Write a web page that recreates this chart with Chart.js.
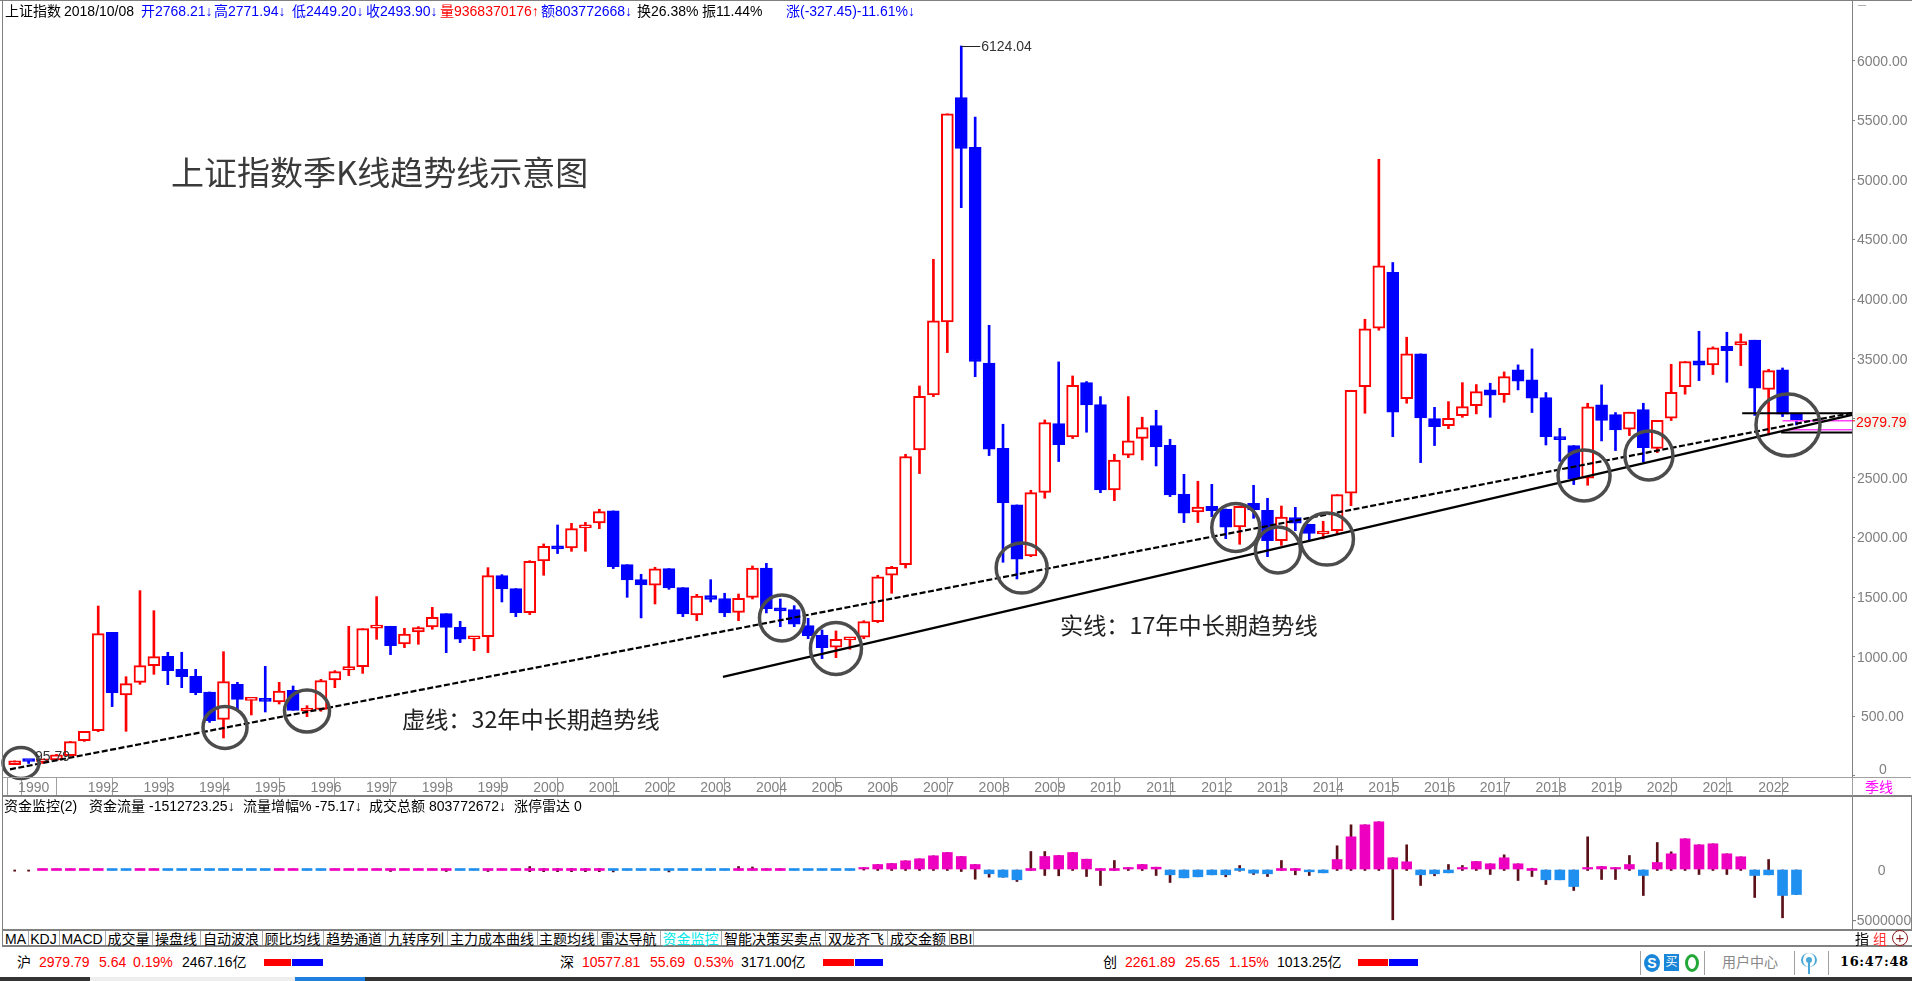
<!DOCTYPE html>
<html lang="zh-CN">
<head>
<meta charset="utf-8">
<title>上证指数季K线趋势线示意图</title>
<script src="https://cdn.jsdelivr.net/npm/chart.js@4"></script>
<style>
html,body{margin:0;padding:0;background:#fff;overflow:hidden}
#stage{position:relative;width:1912px;height:981px;overflow:hidden;background:#fff;font-family:"Liberation Sans","Noto Sans CJK SC",sans-serif;font-size:14px;color:#000}
canvas{position:absolute;left:0}
#stage .t{position:absolute;white-space:nowrap;line-height:16px}
#stage .r{position:absolute}
</style>
</head>
<body>
<div id="stage">
  <canvas id="kline" width="1912" height="796" style="top:0"></canvas>
  <canvas id="flow" width="1912" height="132" style="top:797px"></canvas>
</div>
<script>
// ---- chart data ----------------------------------------------------------
const yearTicks  = [0,1,5,9,13,17,21,25,29,33,37,41,45,49,53,57,61,65,69,73,77,81,85,89,93,97,101,105,109,113,117,121,125];
const yearLabels = ['1990','','1992','1993','1994','1995','1996','1997','1998','1999','2000','2001','2002','2003','2004','2005','2006','2007','2008','2009','2010','2011','2012','2013','2014','2015','2016','2017','2018','2019','2020','2021','2022'];
const priceTicks = [0,500,1000,1500,2000,2500,3000,3500,4000,4500,5000,5500,6000];

const opens  = [96,127,118,134,170,296,380,1205,680,786,926,1004,895,836,705,475,769,635,652,621,719,545,559,805,889,917,1240,1256,1108,1208,1250,1362,1247,1150,1169,1681,1572,1371,1804,1924,1913,2081,2123,2224,1773,1647,1600,1740,1580,1351,1513,1488,1373,1499,1745,1403,1396,1261,1180,1080,1142,1164,1295,1684,1773,2735,3197,3809,5692,5275,3465,2749,2274,1846,2380,2956,2844,3300,3116,2400,2691,2833,2940,2775,2363,2215,2263,2240,2089,2288,2229,1975,2168,2112,2030,2058,2372,3267,3756,4226,3166,3541,2998,2940,3023,3107,3239,3200,3407,3323,3175,2847,2772,2498,3113,3032,2909,3074,2749,3001,3267,3482,3449,3605,3616,3656,3244,3407,3035];
const highs  = [127,127,130,182,290,375,1426,1205,833,1555,1387,1038,1038,895,705,1043,786,643,920,786,755,590,811,884,1256,1236,1505,1256,1239,1253,1415,1362,1298,1169,1748,1689,1572,1807,1947,2106,2120,2128,2238,2224,1773,1692,1751,1740,1580,1524,1647,1533,1527,1762,1784,1485,1429,1323,1225,1217,1162,1303,1684,1759,2699,3272,4335,5555,6124,5527,3781,2951,2274,2397,2987,3474,3356,3309,3183,2699,3183,3010,3068,2825,2531,2473,2447,2240,2263,2439,2330,2265,2254,2112,2137,2361,3236,3832,5174,4308,3681,3541,3093,3141,3300,3284,3295,3390,3449,3583,3217,2917,2772,3127,3281,3049,3052,3127,2984,3454,3477,3731,3600,3723,3709,3656,3412,3423,3035];
const lows   = [95,105,105,130,166,290,372,582,375,769,853,766,741,682,450,319,554,512,537,604,551,498,543,741,842,861,1147,1018,1077,1105,1231,1035,1119,1052,1035,1460,1337,1354,1684,1866,1885,1885,2075,1740,1499,1326,1443,1566,1337,1303,1460,1337,1303,1485,1368,1253,1253,1152,985,993,1063,1152,1287,1533,1745,2537,3183,3552,4768,3351,2688,1793,1653,1840,2330,2638,2831,2884,2377,2310,2671,2651,2601,2344,2126,2126,2176,1991,1944,2162,1840,1935,2059,1972,1989,2028,2268,3043,3740,2847,3127,2629,2772,2914,3009,3038,3009,3135,3239,3049,2777,2640,2445,2439,2811,2730,2856,2635,2713,2982,3203,3317,3368,3303,3443,3025,2861,3015,2945];
const closes = [127,122,128,178,288,375,1194,699,775,926,1001,884,833,699,464,792,643,643,626,713,551,555,800,875,917,1236,1255,1094,1191,1245,1331,1247,1147,1168,1681,1569,1371,1801,1927,1905,2075,2106,2218,1757,1645,1603,1737,1578,1359,1510,1482,1368,1491,1745,1404,1385,1273,1178,1077,1147,1162,1295,1670,1751,2680,3186,3818,5555,5264,3477,2741,2294,1818,2377,2965,2780,3278,3113,2400,2651,2811,2923,2763,2358,2204,2257,2226,2087,2263,2232,1975,2173,2120,2036,2055,2361,3236,3751,4279,3052,3541,3004,2931,3001,3099,3225,3194,3351,3312,3169,2847,2822,2495,3096,2982,2903,3052,2755,2984,3219,3477,3446,3591,3569,3645,3253,3401,3035,2982];

const dashedTrendX = [-0.34,131.99];
const dashedTrendY = [56,3046];
const solidTrendX  = [50.88,131.99];
const solidTrendY  = [831,3029];
const blackLevelX  = [[124.1,131.99],[126.9,131.99]];
const blackLevelY  = [3044,2881];
const pinkLevelX   = [[127,131.99],[127,131.99]];
const pinkLevelY   = [2981,2905];

const circleX = [0.45,15.11,21,55.12,59,72.34,87.72,90.75,94.27,112.74,117.4,127.39];
const circleY = [109,407,545,1326,1070,1745,2085,1896,1988,2521,2689,2945];

// capital flow panel, thousands
const flowTicks  = [0,-5000];
const flowValues = [0,0,50,50,50,50,50,-50,-50,50,50,-50,-50,-50,-50,-50,-50,-50,-50,50,50,-50,-50,50,50,50,50,50,50,50,50,50,-50,-50,50,50,50,120,120,120,120,120,120,-60,-60,-60,-60,-60,-60,-60,-60,-60,80,100,80,80,-60,-60,-60,-70,-60,200,500,600,870,1070,1370,1700,1300,500,-430,-770,-1030,70,1300,1400,1700,1030,70,60,200,500,230,-530,-830,-730,-530,-530,-170,-370,-430,70,100,-230,-330,1000,3270,4470,4770,1170,770,-530,-430,-330,200,800,570,1170,570,130,-1030,-1030,-1700,200,300,200,500,-600,700,1570,3070,2470,2570,1570,1270,-600,-530,-2600,-2500];
const flowHighs  = [0,0,50,50,50,50,50,0,0,50,50,0,0,0,0,0,0,0,0,50,50,0,0,50,50,50,50,50,50,50,50,50,0,0,50,50,50,300,120,120,120,120,120,0,0,0,0,0,0,0,0,0,300,250,80,80,0,0,0,0,0,200,500,600,870,1070,1370,1700,1300,500,0,0,0,1800,1800,1400,1700,1030,70,900,200,500,230,0,0,0,0,0,400,0,0,900,100,0,0,2370,4470,4470,4770,1170,2470,0,0,500,400,800,570,1470,570,130,0,0,0,3270,300,200,1400,0,2700,1770,3070,2470,2570,1570,1270,0,1000,0,0];
const flowLows   = [-170,-170,0,0,0,0,0,-50,-50,0,0,-50,-50,-50,-50,-50,-50,-50,-50,0,0,-50,-50,0,0,0,0,-200,0,0,0,-200,-50,-50,-200,-50,-50,-220,-220,-220,-220,-220,-220,-240,-60,-60,-60,-240,-60,-60,-60,-60,-60,-60,-60,-60,-60,-60,-60,-60,-60,-60,-100,-100,-100,-100,-100,-100,-200,-970,-770,-770,-1200,-100,-600,-630,-100,-700,-1600,-100,-100,-100,-600,-1300,-830,-730,-530,-730,-170,-500,-700,-100,-530,-600,-330,-100,-100,-100,-100,-5030,-100,-1600,-630,-330,-100,-100,-500,-100,-1100,-700,-1500,-1030,-2100,-100,-1000,-1000,-100,-2600,-100,-100,-100,-500,-100,-500,-100,-2800,-530,-4830,-2500];

// ---- page furniture ------------------------------------------------------
const stage = document.getElementById('stage');
function text(str,left,top,color,extra){
  const d=document.createElement('div');d.className='t';d.textContent=str;
  d.style.left=left+'px';d.style.top=top+'px';if(color)d.style.color=color;
  if(extra)Object.assign(d.style,extra);stage.appendChild(d);return d;
}
function rect(l,t,w,h,c,extra){
  const d=document.createElement('div');d.className='r';
  Object.assign(d.style,{left:l+'px',top:t+'px',width:w+'px',height:h+'px',background:c},extra||{});
  stage.appendChild(d);return d;
}
const GREY='#808080',RED='#ff0000',BLUE='#0000ff';

// frame
rect(0,0,1912,1,GREY);rect(2,0,1,947,GREY);rect(3,777,1908,1,'#a0a0a0');
rect(3,795,1909,2,GREY);rect(3,929,1909,2,GREY);rect(3,945,1909,2,GREY);
rect(1911,797,1,133,GREY);rect(1852,777,1,19,'#a0a0a0');rect(1858,5,8,1,'#b0b0b0');

// head line
[['上证指数',5,'#000'],['2018/10/08',64,'#000'],['开2768.21↓',141,BLUE],['高2771.94↓',214,BLUE],['低2449.20↓',292,BLUE],['收2493.90↓',366,BLUE],['量9368370176↑',440,RED],['额803772668↓',541,BLUE],['换26.38%',637,'#000'],['振11.44%',702,'#000'],['涨(-327.45)-11.61%↓',786,BLUE]]
 .forEach(a=>text(a[0],a[1],3,a[2]));

// captions
text('上证指数季K线趋势线示意图',171,148,'#3a3a3a',{fontSize:'33px',lineHeight:'46px',fontFamily:'"Noto Sans CJK SC"'});
text('虚线：32年中长期趋势线',402,701,'#222',{fontSize:'23.2px',lineHeight:'34px',fontFamily:'"Noto Sans CJK SC"'});
text('实线：17年中长期趋势线',1060,607,'#222',{fontSize:'23.2px',lineHeight:'34px',fontFamily:'"Noto Sans CJK SC"'});
text('季线',1865,779,'#ff00ff');

// flow panel head
[['资金监控(2)',4],['资金流量',89],['-1512723.25↓',149],['流量增幅%',243],['-75.17↓',315],['成交总额',369],['803772672↓',429],['涨停雷达',514],['0',574]]
 .forEach(a=>text(a[0],a[1],798,'#000'));

// tab strip
const tabNames=['MA','KDJ','MACD','成交量','操盘线','自动波浪','顾比均线','趋势通道','九转序列','主力成本曲线','主题均线','雷达导航','资金监控','智能决策买卖点','双龙齐飞','成交金额','BBI'];
const tabEdges=[3,28,59,105,152,200,262,323,385,447,537,597,660,721,825,887,949,973];
tabNames.forEach((n,i)=>{
  rect(tabEdges[i+1],931,1,14,'#a8a8a8');
  text(n,tabEdges[i],931,n==='资金监控'?'#00e8e8':'#000',{width:(tabEdges[i+1]-tabEdges[i])+'px',textAlign:'center'});
});
text('指',1855,931,'#000');text('组',1873,931,'#ff3030');
text('+',1892,930,'#8b1a1a',{boxSizing:'border-box',border:'1.5px solid #8b1a1a',borderRadius:'50%',textAlign:'center',lineHeight:'13px',width:'16px',height:'16px',fontSize:'15px'});

// status line
[['沪',17,'#000'],['2979.79',39,RED],['5.64',99,RED],['0.19%',133,RED],['2467.16亿',182,'#000'],
 ['深',560,'#000'],['10577.81',582,RED],['55.69',650,RED],['0.53%',694,RED],['3171.00亿',741,'#000'],
 ['创',1103,'#000'],['2261.89',1125,RED],['25.65',1185,RED],['1.15%',1229,RED],['1013.25亿',1277,'#000'],
 ['用户中心',1722,'#888']].forEach(a=>text(a[0],a[1],954,a[2]));
[[264,27,292,31],[823,31,855,28],[1358,30,1389,29]].forEach(b=>{rect(b[0],959,b[1],7,RED);rect(b[2],959,b[3],7,BLUE);});
[1640,1704,1794,1828].forEach(x=>rect(x,951,1,24,'#a0a0a0'));
text('S',1644,954,'#fff',{width:'16px',height:'18px',lineHeight:'18px',textAlign:'center',background:'#1a86d8',borderRadius:'50%',fontWeight:'bold'});
text('买',1664,954,'#fff',{width:'15px',height:'17px',lineHeight:'17px',textAlign:'center',background:'#1a86d8',fontSize:'12px'});
rect(1685,954,14,18,'transparent',{boxSizing:'border-box',border:'3px solid #22a838',borderRadius:'50%'});
rect(1808,960,2,14,'#4aa8d8');rect(1806,957,6,6,'#4aa8d8',{borderRadius:'50%'});
rect(1801,953,16,14,'transparent',{boxSizing:'border-box',borderLeft:'2px solid #4aa8d8',borderRight:'2px solid #4aa8d8',borderRadius:'50%'});
text('16:47:48',1840,954,'#000',{fontFamily:'"DejaVu Serif"',fontWeight:'bold',fontSize:'13px',letterSpacing:'0.6px'});

// bottom strip
rect(0,977,90,4,'#333');rect(90,977,205,4,'#eeeeee');rect(295,977,70,4,'#2080e0');rect(365,977,1547,4,'#333');

// ---- charts --------------------------------------------------------------
Chart.defaults.animation=false;
Chart.defaults.font.family='"Liberation Sans",sans-serif';
Chart.defaults.font.size=14;

const AXIS_W=60;
const xMin=-0.84,xMax=131.99;
const pts=(xs,ys)=>xs.map((x,i)=>({x,y:ys[i]}));
const idx=opens.map((_,i)=>i);

const lineDs=(data,color,width,dash)=>({type:'line',data,borderColor:color,borderWidth:width,borderDash:dash||[],pointRadius:0,tension:0,order:0,fill:false,clip:false});

const circleRx=[18,22,22.5,22.5,25.5,25.5,24,22.5,26.5,26,24,32];
const circleRy=[15.5,21,21,23,26,25,24,23,26,25.5,24.5,31];

const annotate={
  id:'annotate',
  afterDatasetsDraw(ch){
    const c=ch.ctx,xS=ch.scales.x,yS=ch.scales.y;
    c.save();
    c.strokeStyle='#4c4c4c';c.lineWidth=3.5;
    circleX.forEach((v,i)=>{
      c.beginPath();
      c.ellipse(xS.getPixelForValue(v),yS.getPixelForValue(circleY[i]),circleRx[i],circleRy[i],0,0,Math.PI*2);
      c.stroke();
    });
    // high label
    const hiX=xS.getPixelForValue(68),hiY=yS.getPixelForValue(6124);
    c.strokeStyle='#222';c.lineWidth=1;c.beginPath();c.moveTo(hiX,Math.round(hiY)+.5);c.lineTo(hiX+19,Math.round(hiY)+.5);c.stroke();
    c.font='14px "Liberation Sans"';c.textBaseline='middle';c.textAlign='left';
    c.fillStyle='#333';c.fillText('6124.04',hiX+20,hiY+1);
    c.fillText('95.79',35,yS.getPixelForValue(95.79)-7);
    // last price tag
    const lastY=yS.getPixelForValue(2979.79);
    c.fillStyle='#f0f6ee';c.fillRect(1855,lastY-8,54,17);
    c.strokeStyle=RED;c.beginPath();c.moveTo(1852,lastY);c.lineTo(1855,lastY);c.stroke();
    c.fillStyle=RED;c.fillText('2979.79',1856,lastY+2);
    // zero label sits just above the strip
    c.fillStyle=GREY;c.textAlign='center';c.fillText('0',1883,yS.getPixelForValue(0)-6);
    c.restore();
  }
};

new Chart(document.getElementById('kline'),{
  type:'bar',
  plugins:[annotate],
  data:{datasets:[
    {label:'wick',data:idx.map(i=>({x:i,y:[lows[i],highs[i]]})),grouped:false,barThickness:2,
     backgroundColor:idx.map(i=>closes[i]>=opens[i]?RED:BLUE),borderWidth:0,order:3},
    {label:'body',data:idx.map(i=>({x:i,y:[Math.min(opens[i],closes[i]),Math.max(opens[i],closes[i])]})),grouped:false,barThickness:12,minBarLength:3,
     backgroundColor:idx.map(i=>closes[i]>=opens[i]?'#ffffff':BLUE),
     borderColor:idx.map(i=>closes[i]>=opens[i]?RED:BLUE),borderWidth:2,borderSkipped:false,order:2},
    lineDs(pts(dashedTrendX,dashedTrendY),'#000',2.2,[6,2.5]),
    lineDs(pts(solidTrendX,solidTrendY),'#000',2.2),
    lineDs(pts(blackLevelX[0],[blackLevelY[0],blackLevelY[0]]),'#000',2),
    lineDs(pts(blackLevelX[1],[blackLevelY[1],blackLevelY[1]]),'#000',2),
    lineDs(pts(pinkLevelX[0],[pinkLevelY[0],pinkLevelY[0]]),'#ff40ff',1.5),
    lineDs(pts(pinkLevelX[1],[pinkLevelY[1],pinkLevelY[1]]),'#ff40ff',1.5)
  ]},
  options:{
    responsive:false,maintainAspectRatio:false,animation:false,
    layout:{padding:{left:3,right:0,top:0,bottom:0}},
    plugins:{legend:{display:false},tooltip:{enabled:false},title:{display:false}},
    events:[],
    scales:{
      x:{type:'linear',min:xMin,max:xMax,offset:false,bounds:'data',
        grid:{drawOnChartArea:false,drawTicks:true,tickLength:19,color:'#a0a0a0',lineWidth:1},
        border:{display:false},
        ticks:{autoSkip:false,maxRotation:0,minRotation:0,color:GREY,padding:-16,labelOffset:19,
          callback:v=>{const k=yearTicks.indexOf(v);return k<0?'':yearLabels[k];}},
        afterBuildTicks:s=>{s.ticks=yearTicks.map(v=>({value:v}));},
        afterFit:s=>{s.height=19;s.paddingLeft=0;s.paddingRight=0;}
      },
      y:{type:'linear',position:'right',min:-8.39,max:6510,bounds:'data',
        grid:{drawOnChartArea:false,drawTicks:true,tickLength:3,color:GREY},
        border:{display:true,color:GREY,width:1},
        ticks:{color:GREY,padding:2,crossAlign:'center',autoSkip:false,labelOffset:1,
          callback:v=>v===0?'':v.toFixed(2)},
        afterBuildTicks:s=>{s.ticks=priceTicks.map(v=>({value:v}));},
        afterFit:s=>{s.width=AXIS_W;s.paddingTop=0;s.paddingBottom=0;}
      }
    }
  }
});

const PINK='#ee00c0',SKY='#2090f0',WICK='#5a1018';
new Chart(document.getElementById('flow'),{
  type:'bar',
  data:{datasets:[
    {label:'wick',data:idx.map(i=>({x:i,y:[flowLows[i],flowHighs[i]]})),grouped:false,barThickness:2,
     backgroundColor:WICK,borderWidth:0,order:2},
    {label:'flow',data:idx.map(i=>({x:i,y:[0,flowValues[i]]})),grouped:false,barThickness:10,minBarLength:2,
     backgroundColor:idx.map(i=>flowValues[i]===0?'rgba(0,0,0,0)':(flowValues[i]>0?PINK:SKY)),borderWidth:0,order:1}
  ]},
  options:{
    responsive:false,maintainAspectRatio:false,animation:false,
    layout:{padding:{left:3,right:0,top:0,bottom:0}},
    plugins:{legend:{display:false},tooltip:{enabled:false},title:{display:false}},
    events:[],
    scales:{
      x:{type:'linear',min:xMin,max:xMax,offset:false,bounds:'data',display:false},
      y:{type:'linear',position:'right',min:-5950,max:7250,bounds:'data',
        grid:{drawOnChartArea:false,drawTicks:false,color:GREY},
        border:{display:true,color:GREY,width:1},
        ticks:{color:GREY,padding:0,crossAlign:'center',autoSkip:false,labelOffset:2,
          callback:v=>String(v*1000)},
        afterBuildTicks:s=>{s.ticks=flowTicks.map(v=>({value:v}));},
        afterFit:s=>{s.width=AXIS_W;s.paddingTop=0;s.paddingBottom=0;}
      }
    }
  }
});
</script>
</body>
</html>
